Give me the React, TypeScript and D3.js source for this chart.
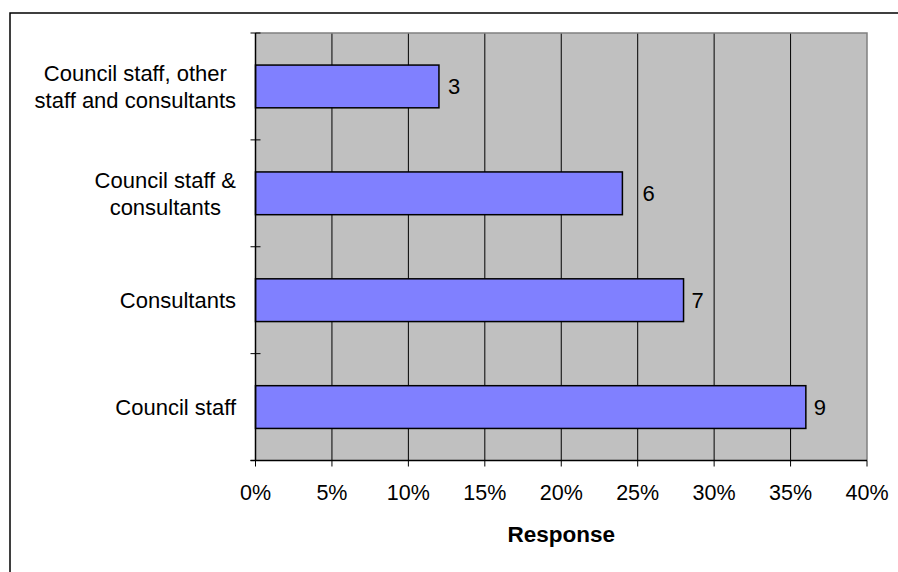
import React, { useEffect, useRef } from "react";
import * as d3 from "d3";

const categories = [
  "Council staff",
  "Consultants",
  "Council staff & consultants",
  "Council staff, other staff and consultants",
];
const categoryLines = [
  ["Council staff"],
  ["Consultants"],
  ["Council staff &", "consultants"],
  ["Council staff, other", "staff and consultants"],
];
const shares = [0.36, 0.28, 0.24, 0.12];
const counts = [9, 7, 6, 3];
const xTicks = [0, 0.05, 0.1, 0.15, 0.2, 0.25, 0.3, 0.35, 0.4];
const xTitle = "Response";

const W = 898;
const H = 572;
const PL = 255.5;
const PR = 867;
const PT = 33;
const PB = 460.5;
const FONT = "'Liberation Sans', Arial, sans-serif";
const LABEL_GAP = [8, 8, 20, 9];

export default function App() {
  const ref = useRef<SVGSVGElement | null>(null);

  useEffect(() => {
    const svg = d3.select(ref.current);
    svg.selectAll("*").remove();

    const x = d3.scaleLinear().domain([0, 0.4]).range([PL, PR]);
    const y = d3
      .scaleBand<string>()
      .domain([...categories].reverse())
      .range([PT, PB])
      .paddingInner(0.6)
      .paddingOuter(0.3);
    const band = d3.scaleBand<string>().domain([...categories].reverse()).range([PT, PB]);

    svg
      .append("path")
      .attr("d", `M10,${H + 5} L10,13 L${W + 5},13`)
      .attr("fill", "none")
      .attr("stroke", "#000")
      .attr("stroke-width", 1.5);

    svg
      .append("rect")
      .attr("x", PL)
      .attr("y", PT)
      .attr("width", PR - PL)
      .attr("height", PB - PT)
      .attr("fill", "#C0C0C0");

    svg
      .append("g")
      .selectAll("line")
      .data(xTicks.slice(1, -1))
      .join("line")
      .attr("x1", (d) => x(d))
      .attr("x2", (d) => x(d))
      .attr("y1", PT)
      .attr("y2", PB)
      .attr("stroke", "#000")
      .attr("stroke-width", 1);

    svg
      .append("path")
      .attr("d", `M${PL},${PT} L${PR},${PT} L${PR},${PB}`)
      .attr("fill", "none")
      .attr("stroke", "#808080")
      .attr("stroke-width", 1.5);

    svg
      .append("g")
      .selectAll("rect")
      .data(categories)
      .join("rect")
      .attr("x", PL)
      .attr("y", (d) => y(d)!)
      .attr("width", (d, i) => x(shares[i]) - PL)
      .attr("height", y.bandwidth())
      .attr("fill", "#8080FF")
      .attr("stroke", "#000")
      .attr("stroke-width", 1.5);

    svg
      .append("g")
      .selectAll("text")
      .data(categories)
      .join("text")
      .attr("x", (d, i) => x(shares[i]) + LABEL_GAP[i])
      .attr("y", (d) => y(d)! + y.bandwidth() / 2)
      .attr("dy", "0.35em")
      .attr("font-family", FONT)
      .attr("font-size", 22)
      .attr("fill", "#000")
      .text((d, i) => String(counts[i]));

    svg
      .append("line")
      .attr("x1", PL)
      .attr("x2", PL)
      .attr("y1", PT)
      .attr("y2", PB)
      .attr("stroke", "#000")
      .attr("stroke-width", 1.5);
    svg
      .append("line")
      .attr("x1", PL - 5)
      .attr("x2", PR)
      .attr("y1", PB)
      .attr("y2", PB)
      .attr("stroke", "#000")
      .attr("stroke-width", 1.5);

    const bounds = [PT, ...categories.map((c) => band(c)! + band.bandwidth())];
    svg
      .append("g")
      .selectAll("line")
      .data(bounds)
      .join("line")
      .attr("x1", PL - 5)
      .attr("x2", PL + 5)
      .attr("y1", (d) => d)
      .attr("y2", (d) => d)
      .attr("stroke", "#000")
      .attr("stroke-width", 1);

    svg
      .append("g")
      .selectAll("line")
      .data(xTicks)
      .join("line")
      .attr("x1", (d) => x(d))
      .attr("x2", (d) => x(d))
      .attr("y1", PB)
      .attr("y2", PB + 6)
      .attr("stroke", "#000")
      .attr("stroke-width", 1);

    svg
      .append("g")
      .selectAll("text")
      .data(xTicks)
      .join("text")
      .attr("x", (d) => x(d))
      .attr("y", 500)
      .attr("text-anchor", "middle")
      .attr("font-family", FONT)
      .attr("font-size", 21.5)
      .attr("fill", "#000")
      .text((d) => d3.format(".0%")(d));

    svg
      .append("text")
      .attr("x", (PL + PR) / 2)
      .attr("y", 542)
      .attr("text-anchor", "middle")
      .attr("font-family", FONT)
      .attr("font-size", 22.5)
      .attr("font-weight", "bold")
      .attr("fill", "#000")
      .text(xTitle);

    const rightEdge = 236;
    const lh = 27;
    categories.forEach((c, i) => {
      const lines = categoryLines[i];
      const cy = band(c)! + band.bandwidth() / 2;
      const g = svg.append("g");
      const texts = lines.map((ln, j) =>
        g
          .append("text")
          .attr("y", cy + (j - (lines.length - 1) / 2) * lh)
          .attr("dy", "0.35em")
          .attr("text-anchor", "middle")
          .attr("font-family", FONT)
          .attr("font-size", 22)
          .attr("fill", "#000")
          .text(ln)
      );
      const maxW = d3.max(texts, (t) => (t.node() as SVGTextElement).getComputedTextLength()) || 0;
      texts.forEach((t) => t.attr("x", rightEdge - maxW / 2));
    });
  }, []);

  return (
    <svg
      ref={ref}
      width={W}
      height={H}
      style={{ position: "absolute", left: 0, top: 0, background: "#fff" }}
    />
  );
}
